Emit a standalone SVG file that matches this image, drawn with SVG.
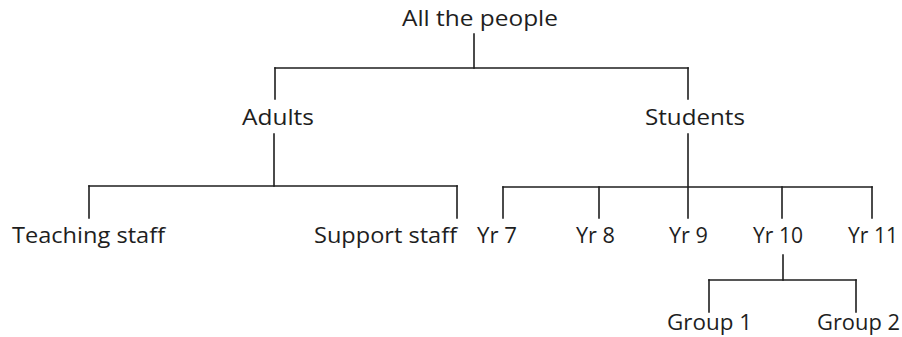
<svg xmlns="http://www.w3.org/2000/svg" width="902" height="337" viewBox="0 0 902 337">
<style>
text{font-family:"Open Sans","Liberation Sans",sans-serif;font-size:21px;fill:#1e1e1e}
.c line{stroke:#1e1e1e;stroke-width:1.6;stroke-linecap:square}
</style>
<rect width="902" height="337" fill="#fff"/>
<g class="c" id="connectors">
<line x1="474" y1="34" x2="474" y2="68"/>
<line x1="275" y1="68" x2="688" y2="68"/>
<line x1="275" y1="68" x2="275" y2="99"/>
<line x1="688" y1="68" x2="688" y2="99"/>
<line x1="274" y1="134" x2="274" y2="186"/>
<line x1="89" y1="186" x2="457" y2="186"/>
<line x1="89" y1="186" x2="89" y2="218"/>
<line x1="457" y1="186" x2="457" y2="218"/>
<line x1="688" y1="134" x2="688" y2="218"/>
<line x1="503" y1="187" x2="872" y2="187"/>
<line x1="503" y1="187" x2="503" y2="218"/>
<line x1="599" y1="187" x2="599" y2="218"/>
<line x1="782" y1="187" x2="782" y2="218"/>
<line x1="872" y1="187" x2="872" y2="218"/>
<line x1="783" y1="255" x2="783" y2="280"/>
<line x1="709" y1="280" x2="856" y2="280"/>
<line x1="709" y1="280" x2="709" y2="312"/>
<line x1="856" y1="280" x2="856" y2="312"/>
</g>
<g id="root"><text x="402" y="26" textLength="156" lengthAdjust="spacingAndGlyphs">All the people</text></g>
<g id="adults"><text x="242" y="125" textLength="72" lengthAdjust="spacingAndGlyphs">Adults</text></g>
<g id="students"><text x="645" y="125" textLength="100" lengthAdjust="spacingAndGlyphs">Students</text></g>
<g id="teaching"><text x="12" y="243" textLength="153" lengthAdjust="spacingAndGlyphs">Teaching staff</text></g>
<g id="support"><text x="314" y="243" textLength="143" lengthAdjust="spacingAndGlyphs">Support staff</text></g>
<g id="yr7"><text x="477" y="243" textLength="40" lengthAdjust="spacingAndGlyphs">Yr 7</text></g>
<g id="yr8"><text x="576" y="243" textLength="39" lengthAdjust="spacingAndGlyphs">Yr 8</text></g>
<g id="yr9"><text x="669" y="243" textLength="39" lengthAdjust="spacingAndGlyphs">Yr 9</text></g>
<g id="yr10"><text x="753" y="243" textLength="50" lengthAdjust="spacingAndGlyphs">Yr 10</text></g>
<g id="yr11"><text x="848" y="243" textLength="50" lengthAdjust="spacingAndGlyphs">Yr 11</text></g>
<g id="group1"><text x="667" y="330" font-size="20" textLength="85" lengthAdjust="spacingAndGlyphs">Group 1</text></g>
<g id="group2"><text x="817" y="330" font-size="20" textLength="83" lengthAdjust="spacingAndGlyphs">Group 2</text></g>
</svg>
